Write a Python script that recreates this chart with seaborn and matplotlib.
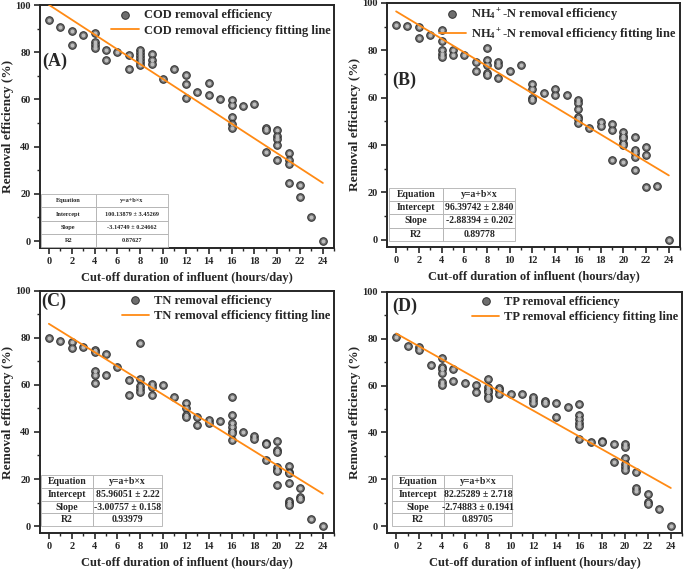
import matplotlib
matplotlib.use("Agg")
import matplotlib.pyplot as plt
from matplotlib.ticker import MultipleLocator
import seaborn as sns

# COD (A)
cod_x = [0, 1, 2, 2, 3, 4, 4, 4, 4, 5, 5, 6, 7, 7, 8, 8, 8, 8, 8, 8, 9, 9, 9, 10, 11,
         12, 12, 12, 13, 14, 14, 15, 16, 16, 16, 16, 16, 17, 18, 19, 19, 19,
         20, 20, 20, 20, 20, 21, 21, 21, 21, 22, 22, 23, 24]
cod_y = [93.8, 90.8, 89.2, 83.0, 87.4, 88.1, 84.3, 83.0, 81.9, 80.9, 76.7, 80.0, 78.8, 72.8,
         81.0, 79.8, 78.5, 77.2, 76.0, 74.8, 79.3, 76.9, 75.2, 68.7, 73.1,
         70.2, 66.6, 60.8, 63.1, 66.8, 61.8, 60.1, 59.8, 57.6, 52.5, 49.5, 48.1, 57.3, 57.9,
         47.8, 47.1, 37.8, 47.2, 44.6, 43.2, 40.7, 34.2, 37.5, 34.5, 32.5, 24.5,
         23.8, 18.5, 10.2, 0.0]

# NH4+-N (B)
nh4_x = [0, 1, 2, 2, 3, 4, 4, 4, 4, 4, 5, 5, 6, 7, 7, 8, 8, 8, 8, 8, 9, 9, 9, 10, 11,
         12, 12, 12, 12, 13, 14, 14, 15, 16, 16, 16, 16, 16, 16, 17, 18, 18, 19, 19, 19,
         20, 20, 20, 20, 20, 20, 21, 21, 21, 21, 21, 22, 22, 22, 23, 24]
nh4_y = [90.8, 90.4, 89.9, 85.1, 86.5, 88.4, 84.0, 80.0, 78.6, 77.2, 80.2, 77.9, 77.9, 75.2, 71.2,
         81.0, 75.8, 73.9, 70.2, 69.5, 75.1, 73.8, 68.1, 71.1, 73.7,
         65.6, 63.7, 59.8, 58.9, 61.8, 63.5, 61.0, 61.3, 59.2, 57.6, 55.1, 52.0, 51.0, 49.3,
         47.3, 49.9, 47.9, 49.0, 46.3, 33.6, 45.3, 44.0, 43.0, 41.0, 40.2, 32.9,
         43.3, 38.0, 36.8, 35.0, 29.5, 39.0, 36.0, 22.2, 22.9, 0.0]

# TN (C)
tn_x = [0, 1, 2, 2, 3, 4, 4, 4, 4, 4, 5, 5, 6, 7, 7, 8, 8, 8, 8, 8, 9, 9, 9, 10, 11,
        12, 12, 12, 12, 13, 13, 14, 14, 15, 16, 16, 16, 16, 16, 16, 16, 17, 18, 18,
        19, 19, 19, 20, 20, 20, 20, 20, 20, 20, 21, 21, 21, 21, 21, 21, 21, 22, 22, 22, 23, 24]
tn_y = [80.1, 78.8, 78.4, 75.7, 76.3, 74.9, 73.9, 66.1, 64.2, 60.9, 73.3, 64.1, 67.5, 62.2, 55.8,
        78.0, 62.5, 59.5, 58.1, 57.0, 60.5, 59.1, 55.5, 60.1, 55.0,
        52.4, 50.3, 47.2, 46.3, 46.3, 43.0, 45.2, 43.6, 44.7,
        54.7, 47.3, 44.0, 42.0, 40.3, 39.5, 36.4, 40.1, 38.4, 37.2,
        35.2, 34.7, 28.0, 36.2, 32.4, 31.4, 25.0, 24.0, 23.4, 17.3,
        25.6, 23.0, 22.5, 18.5, 10.8, 9.9, 9.1, 16.0, 12.4, 11.5, 3.1, 0.2]

# TP (D)
tp_x = [0, 1, 2, 2, 3, 4, 4, 4, 4, 4, 4, 5, 5, 6, 7, 7, 8, 8, 8, 8, 8, 8, 9, 9, 9, 10, 11,
        12, 12, 12, 13, 13, 14, 14, 15, 16, 16, 16, 16, 16, 16, 17, 18, 18, 19, 19,
        20, 20, 20, 20, 20, 20, 21, 21, 21, 22, 22, 22, 23, 24]
tp_y = [80.9, 77.1, 76.4, 75.4, 69.0, 71.9, 68.1, 67.0, 65.4, 61.5, 60.1, 67.2, 62.0, 61.0,
        60.1, 57.3, 63.0, 59.4, 58.3, 57.1, 55.4, 54.8, 59.1, 58.2, 56.6, 56.3, 56.3,
        55.0, 53.8, 52.6, 53.3, 52.6, 52.4, 46.4, 51.0, 52.3, 47.3, 45.6, 43.9, 42.8, 37.3,
        35.8, 36.2, 35.8, 34.9, 27.2, 35.0, 33.8, 29.1, 26.6, 25.2, 24.1,
        22.9, 16.4, 15.0, 13.7, 10.4, 9.4, 7.5, 0.0]

# linear fit results shown in the tables
fit_cod = ["100.13879 ± 3.45269", "-3.14749 ± 0.24662", "0.87627"]
fit_nh4 = ["96.39742 ± 2.840", "-2.88394 ± 0.202", "0.89778"]
fit_tn = ["85.96051 ± 2.22", "-3.00757 ± 0.158", "0.93979"]
fit_tp = ["82.25289 ± 2.718", "-2.74883 ± 0.1941", "0.89705"]
intercepts = [100.13879, 96.39742, 85.96051, 82.25289]
slopes = [-3.14749, -2.88394, -3.00757, -2.74883]
fit_range = [0, 24]

names = ["COD", r"NH$_4$$^+$-N", "TN", "TP"]
letters = ["(A)", "(B)", "(C)", "(D)"]

sns.set_style("ticks")
plt.rcParams["font.family"] = ["Liberation Serif", "DejaVu Serif"]
plt.rcParams["font.weight"] = "bold"
plt.rcParams["axes.labelweight"] = "bold"
plt.rcParams["mathtext.fontset"] = "custom"
plt.rcParams["mathtext.rm"] = "Liberation Serif:bold"
plt.rcParams["mathtext.it"] = "Liberation Serif:bold:italic"
plt.rcParams["mathtext.bf"] = "Liberation Serif:bold"

fig = plt.figure(figsize=(6.85, 5.69), dpi=100)
rects = [[0.058, 0.564, 0.430, 0.427],
         [0.565, 0.566, 0.428, 0.429],
         [0.058, 0.063, 0.430, 0.426],
         [0.565, 0.063, 0.431, 0.424]]
tables = [[0.005, 0.004, 0.43, 0.218],
          [0.007, 0.025, 0.43, 0.217],
          [0.004, 0.029, 0.412, 0.21],
          [0.017, 0.029, 0.407, 0.21]]
table_fs = [4.5, 7, 7, 7]
letter_pos = [(-0.55, 76), (-0.35, 67.5), (-0.7, 95.5), (-0.35, 94)]
xs = [cod_x, nh4_x, tn_x, tp_x]
ys = [cod_y, nh4_y, tn_y, tp_y]
fits = [fit_cod, fit_nh4, fit_tn, fit_tp]

for i in range(4):
    ax = fig.add_axes(rects[i])
    sns.scatterplot(x=xs[i], y=ys[i], ax=ax, s=30, color="#6e6e6e",
                    edgecolor="#2e2e2e", linewidth=0.7, zorder=3,
                    label=f"{names[i]} removal efficiency")
    # lighter core to give the markers a shaded look
    sns.scatterplot(x=xs[i], y=ys[i], ax=ax, s=8, color="#bdbdbd",
                    linewidth=0, zorder=3.5, legend=False)
    fit_y = [intercepts[i] + slopes[i] * v for v in fit_range]
    sns.lineplot(x=fit_range, y=fit_y, ax=ax, color="#ff8a14", linewidth=1.3,
                 zorder=4, label=f"{names[i]} removal efficiency fitting line")

    ax.set_xlim(-0.8, 25)
    ax.set_ylim(-3, 100)
    ax.set_xticks(range(0, 25, 2))
    ax.set_yticks(range(0, 101, 20))
    ax.xaxis.set_minor_locator(MultipleLocator(1))
    ax.yaxis.set_minor_locator(MultipleLocator(10))
    ax.tick_params(which="major", direction="out", length=4, width=1.2,
                   labelsize=7.5, pad=2.5)
    ax.tick_params(which="minor", direction="out", length=2, width=1.0)
    for sp in ax.spines.values():
        sp.set_linewidth(1.4)
        sp.set_visible(True)
    ax.set_xlabel("Cut-off duration of influent (hours/day)", fontsize=9)
    ax.set_ylabel("Removal efficiency (%)", fontsize=9.5)
    ax.xaxis.set_label_coords(0.5, -0.1)
    ax.yaxis.set_label_coords(-0.088, 0.5)

    ax.legend(loc="upper right", frameon=False, fontsize=9, handlelength=2.2,
              borderaxespad=0.1, labelspacing=0.3, handletextpad=0.4,
              borderpad=0.2)
    ax.text(letter_pos[i][0], letter_pos[i][1], letters[i], fontsize=13,
            fontweight="bold", va="center", ha="left")

    rows = [["Equation", "y=a+b×x"], ["Intercept", fits[i][0]],
            ["Slope", fits[i][1]], ["R2", fits[i][2]]]
    tb = ax.table(cellText=rows, colWidths=[0.43, 0.57], cellLoc="center",
                  bbox=tables[i], zorder=5)
    tb.auto_set_font_size(False)
    tb.set_fontsize(table_fs[i])
    for cell in tb.get_celld().values():
        cell.set_edgecolor("#b0b0b0")
        cell.set_linewidth(0.6)
        cell.set_facecolor("white")
        cell.get_text().set_fontweight("bold")

fig.savefig("out.png", dpi=100)
